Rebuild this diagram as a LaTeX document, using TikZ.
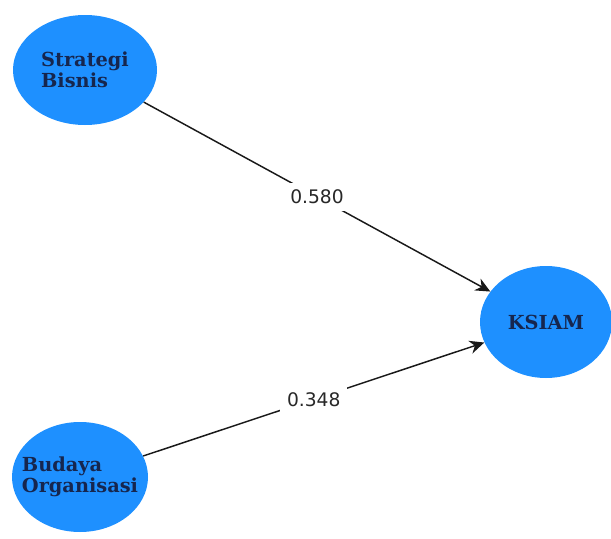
\documentclass[tikz,border=0pt]{standalone}
\usepackage{fontspec}
\setmainfont{DejaVu Serif}
\newfontfamily\labelfont{DejaVu Sans}
\usetikzlibrary{shapes.geometric,arrows.meta}
\definecolor{varblue}{RGB}{30,144,255}
\definecolor{vartext}{RGB}{22,38,78}
\definecolor{pathtext}{RGB}{40,40,40}

\begin{document}
\begin{tikzpicture}[x=0.75pt,y=-0.75pt,
    latent/.style={ellipse, fill=varblue, inner sep=0pt, text=vartext,
      font=\fontsize{14.5}{16}\selectfont\bfseries, align=left},
    coef/.style={fill=white, inner sep=5pt, text=pathtext,
      font=\labelfont\fontsize{14}{16}\selectfont},
    path/.style={-{Stealth[length=11pt,width=10pt]}, line width=1.1pt, black!90}]
    \useasboundingbox (0,0) rectangle (611,539);
    \node(sb) [latent, minimum width=108pt, minimum height=82.5pt] at (85,70) {Strategi\\Bisnis};
    \node(bo) [latent, inner xsep=-16pt, minimum width=102pt, minimum height=82.5pt] at (80,477) {Budaya\\Organisasi};
    \node(ks) [latent, minimum width=99pt, minimum height=84pt] at (546,322) {KSIAM};
    \draw[path] (sb) -- node[coef]{0.580} (ks);
    \draw[path] (bo) -- node[coef]{0.348} (ks);
  \end{tikzpicture}
\end{document}
